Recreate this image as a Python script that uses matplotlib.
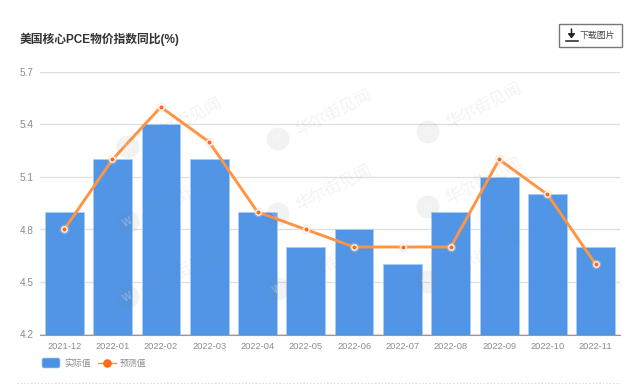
import matplotlib
matplotlib.use("Agg")
import matplotlib.pyplot as plt
from matplotlib.patches import Rectangle, Circle, FancyBboxPatch

plt.rcParams["font.family"] = ["Liberation Sans", "Noto Sans CJK SC"]

months = ["2021-12", "2022-01", "2022-02", "2022-03", "2022-04", "2022-05",
          "2022-06", "2022-07", "2022-08", "2022-09", "2022-10", "2022-11"]
actual = [4.9, 5.2, 5.4, 5.2, 4.9, 4.7, 4.8, 4.6, 4.9, 5.1, 5.0, 4.7]
forecast = [4.8, 5.2, 5.5, 5.3, 4.9, 4.8, 4.7, 4.7, 4.7, 5.2, 5.0, 4.6]
yticks = [4.2, 4.5, 4.8, 5.1, 5.4, 5.7]
title = "美国核心PCE物价指数同比(%)"
button_text = "下载图片"
watermark = "华尔街见闻"
watermark_spots = [(128, 147), (128, 222), (128, 297),
                   (278, 139), (278, 214), (278, 289),
                   (428, 132), (428, 207), (428, 282)]

W, H = 640, 390
BLUE = "#4A92E6"
ORANGE = "#FF9443"
DOT = "#FF6A22"
GRAY = "#8C8C8C"

fig = plt.figure(figsize=(W / 100, H / 100), dpi=100)
ax = fig.add_axes([40 / W, 1 - 334.5 / H, 580 / W, 262.5 / H])
x = list(range(len(months)))

# page level overlay in pixel coords
page = fig.add_axes([0, 0, 1, 1], zorder=5)
page.set_xlim(0, W)
page.set_ylim(H, 0)
page.axis("off")
page.patch.set_alpha(0)

ax.bar(x, actual, width=0.8, color=BLUE, alpha=0.97, edgecolor="#A9CDF5", linewidth=0.7, zorder=2)
ax.plot(x, forecast, color=ORANGE, linewidth=2.1, zorder=3, solid_joinstyle="round")
ax.scatter(x, forecast, s=48, color="#FFC9A6", alpha=0.35, linewidths=0, zorder=4)
ax.scatter(x, forecast, s=15, color=DOT, edgecolors="white", linewidths=0.9, zorder=5)

ax.set_xlim(-0.5, len(months) - 0.5)
ax.set_ylim(4.2, 5.7)
ax.set_yticks(yticks, [f"{v:.1f}" for v in yticks])
ax.set_xticks(x, months)
ax.tick_params(axis="x", length=0, labelsize=6.7, labelcolor=GRAY, pad=5.5)
ax.tick_params(axis="y", length=0, labelsize=7.2, labelcolor=GRAY, pad=4.5)
ax.grid(axis="y", color="#DEDEDE", linewidth=0.9, zorder=0)
ax.set_axisbelow(True)
for name in ["top", "right", "left"]:
    ax.spines[name].set_visible(False)
ax.spines["bottom"].set_color("#999999")

# watermarks
for wx, wy in watermark_spots:
    page.text(wx + 55, wy - 26, watermark, fontsize=12, color="#888888", alpha=0.10,
              rotation=27, rotation_mode="anchor", ha="center", va="center")
    page.add_patch(Circle((wx, wy), 11.5, color="#888888", alpha=0.10, lw=0))
    page.text(wx, wy, "W", fontsize=7, color="white", alpha=0.25, fontweight="bold",
              ha="center", va="center", rotation=27)

page.text(20, 39, title, fontsize=8.5, fontweight="bold", color="#333333", va="center")

# download button
page.add_patch(Rectangle((559, 23.5), 62.5, 23, fc="white", ec="#777777", lw=1))
page.annotate("", xy=(571.5, 38.5), xytext=(571.5, 29),
              arrowprops=dict(arrowstyle="-|>,head_width=0.2,head_length=0.25", color="#222222",
                              lw=1.1, shrinkA=0, shrinkB=0))
page.plot([566, 577.5], [40.7, 40.7], color="#222222", lw=1.1)
page.text(580, 35, button_text, fontsize=6.4, color="#444444", va="center")

# legend
page.add_patch(FancyBboxPatch((43, 359), 16, 8, boxstyle="round,pad=1,rounding_size=2",
                              fc=BLUE, ec="#A9CDF5", lw=0.5))
page.text(64, 363, "实际值", fontsize=6.4, color=GRAY, va="center")
page.plot([98, 116], [363, 363], color=ORANGE, lw=1.0)
page.plot([107], [363], "o", ms=6.2, color=DOT, mew=0)
page.text(120, 363, "预测值", fontsize=6.4, color=GRAY, va="center")

page.plot([17, 620], [382.7, 382.7], color="#D8D8D8", lw=0.7, ls=(0, (1.5, 2)))

fig.savefig("out.png", dpi=100)
